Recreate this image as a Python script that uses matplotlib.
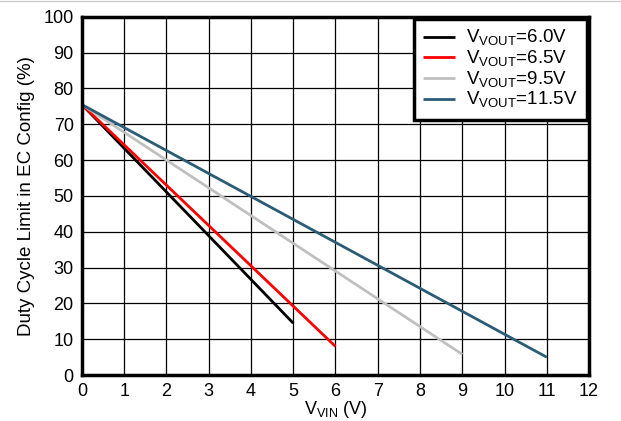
import matplotlib
matplotlib.use('Agg')
import matplotlib.pyplot as plt
from matplotlib.lines import Line2D

plt.rcParams['font.family'] = ['Liberation Sans', 'DejaVu Sans']
plt.rcParams['mathtext.fontset'] = 'custom'
plt.rcParams['mathtext.rm'] = 'Liberation Sans'

# endpoints (lines are straight)
vin_60 = [0, 5]
duty_60 = [75.5, 14.5]
vin_65 = [0, 6]
duty_65 = [75.5, 8.0]
vin_95 = [0, 9]
duty_95 = [75.5, 5.8]
vin_115 = [0, 11]
duty_115 = [75.5, 5.0]

labels = ['6.0V', '6.5V', '9.5V', '11.5V']
colors = ['#000000', '#ff0000', '#c0c0c0', '#2b5c75']

fig = plt.figure(figsize=(6.21, 4.21), dpi=100)
ax = fig.add_axes([0.132, 0.109, 0.8165, 0.851])

series = [(vin_60, duty_60), (vin_65, duty_65), (vin_95, duty_95), (vin_115, duty_115)]
for (x, y), lab, c in zip(series, labels, colors):
    ax.plot(x, y, color=c, linewidth=2, label=r'V$_{\mathrm{VOUT}}$=' + lab, solid_capstyle='butt')

ax.set_xlim(0, 12)
ax.set_ylim(0, 100)
ax.set_xticks(range(0, 13))
ax.set_yticks(range(0, 101, 10))
ax.grid(True, color='black', linewidth=0.9)
ax.set_axisbelow(True)
for s in ax.spines.values():
    s.set_linewidth(2.5)
ax.tick_params(length=0, labelsize=13, pad=6)

ax.set_xlabel(r'V$_{\mathrm{VIN}}$ (V)', fontsize=13, labelpad=-1)
ax.set_ylabel('Duty Cycle Limit in EC Config (%)', fontsize=13.5, labelpad=6)

leg = ax.legend(loc='upper right', fontsize=13.5, fancybox=False, framealpha=1,
                edgecolor='black', borderaxespad=0.1, handlelength=1.7,
                handletextpad=0.6, labelspacing=0.02, borderpad=0.5)
leg.get_frame().set_linewidth(2.5)

# thin gray rule along the top of the image
fig.add_artist(Line2D([0, 1], [0.997, 0.997], transform=fig.transFigure, color='#cccccc', linewidth=1))

fig.savefig('out.png', dpi=100)
